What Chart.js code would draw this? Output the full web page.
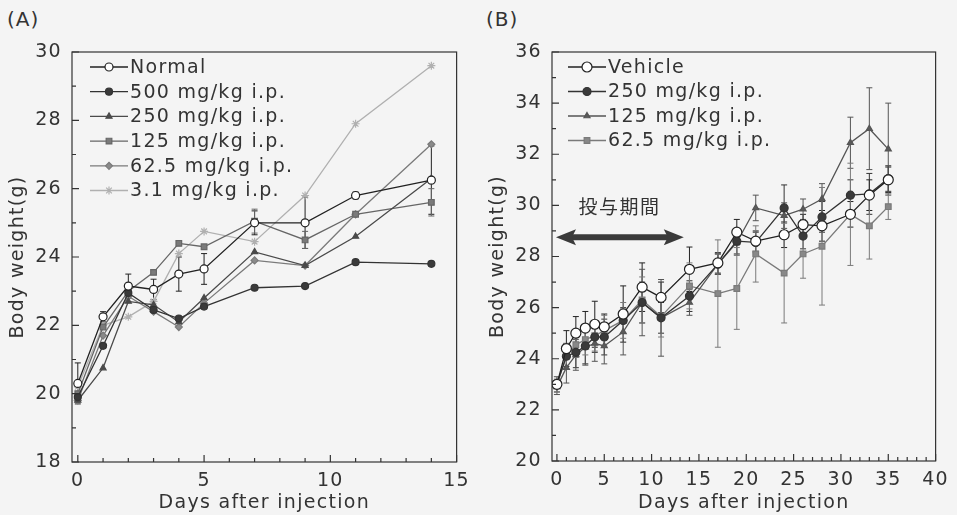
<!DOCTYPE html>
<html>
<head>
<meta charset="utf-8">
<script src="https://cdn.jsdelivr.net/npm/chart.js@4"></script>
<style>
  body { margin: 0; background: #f4f4f4; width: 957px; height: 515px; overflow: hidden; position: relative; font-family: "DejaVu Sans", sans-serif; color: #333; }
  canvas { position: absolute; top: 0; }
  #chartA { left: 0; }
  #chartB { left: 478px; }
  .panel-tag { position: absolute; top: 9px; font-size: 20px; line-height: 1; letter-spacing: 1px; color: #333; }
</style>
</head>
<body>
<div class="panel-tag" style="left:7px">(A)</div>
<div class="panel-tag" style="left:486px">(B)</div>
<canvas id="chartA" width="478" height="515"></canvas>
<canvas id="chartB" width="479" height="515"></canvas>
<script>
// Panel A data
const daysA = [0, 1, 2, 3, 4, 5, 7, 9, 11, 14];
const normalA = [20.3, 22.25, 23.15, 23.05, 23.5, 23.65, 25.0, 25.0, 25.8, 26.25];
const mg500A = [19.9, 21.4, 22.95, 22.45, 22.2, 22.55, 23.1, 23.15, 23.85, 23.8];
const mg250A = [19.8, 20.75, 22.7, 22.6, 22.1, 22.8, 24.15, 23.75, 24.6, 26.3];
const mg125A = [20.0, 21.95, 23.0, 23.55, 24.4, 24.3, 25.05, 24.5, 25.25, 25.6];
const mg62A = [19.8, 21.7, 22.85, 22.4, 21.95, 22.65, 23.9, 23.75, 25.25, 27.3];
const mg3A = [20.2, 22.0, 22.25, 22.7, 24.1, 24.75, 24.45, 25.8, 27.9, 29.6];
const errNormalA = [0.6, 0.15, 0.35, 0.3, 0.5, 0.45, 0.35, 0.75, 0.1, 1.0];
const errMg125A = [0, 0, 0, 0, 0, 0, 0.35, 0.25, 0, 0.4];
const xLabelsA = [0, 5, 10, 15];
const yLabelsA = [18, 20, 22, 24, 26, 28, 30];

// Panel B data
const daysB = [0, 1, 2, 3, 4, 5, 7, 9, 11, 14, 17, 19, 21, 24, 26, 28, 31, 33, 35];
const vehicleB = [23.0, 24.4, 25.0, 25.2, 25.35, 25.25, 25.75, 26.8, 26.4, 27.5, 27.75, 28.95, 28.6, 28.85, 29.25, 29.2, 29.65, 30.4, 31.0];
const mg250B = [23.0, 24.1, 24.25, 24.5, 24.85, 24.85, 25.5, 26.2, 25.6, 26.45, 27.7, 28.6, 28.55, 29.9, 28.8, 29.55, 30.4, 30.45, 31.05];
const mg125B = [22.9, 23.65, 24.15, 24.45, 24.6, 24.5, 25.05, 26.2, 25.6, 26.2, 27.7, 28.55, 29.9, 29.6, 29.85, 30.25, 32.45, 33.0, 32.2];
const mg62B = [23.0, 24.1, 24.55, 24.75, 24.9, 25.1, 25.5, 26.3, 25.65, 26.85, 26.55, 26.75, 28.1, 27.35, 28.1, 28.4, 29.65, 29.2, 29.95];
const errVehicleB = [0, 0.7, 0.65, 0.65, 0.9, 0.5, 1.1, 0.95, 0.6, 0.87, 0.4, 0.5, 0.4, 0.5, 0.4, 0.6, 0.5, 0.6, 0.5];
const errMg250B = [0.3, 0.5, 0.6, 0.7, 0.6, 0.7, 0.5, 0.8, 0.6, 0.6, 0.4, 0.5, 0.4, 0.9, 0.5, 0.6, 0.6, 0.8, 0.5];
const errMg125B = [0.3, 0.6, 0.6, 0.7, 0.7, 0.7, 0.9, 1.3, 1.5, 0.5, 0.4, 0.5, 0.5, 0.5, 0.4, 0.6, 1.0, 1.6, 1.8];
const errMg62B = [0.3, 0.5, 0.5, 0.6, 0.6, 0.6, 0.7, 0.9, 0.8, 0.9, 2.1, 1.6, 1.1, 1.95, 0.95, 2.3, 2.0, 1.3, 0.5];
const xLabelsB = [0, 5, 10, 15, 20, 25, 30, 35, 40];
const yLabelsB = [20, 22, 24, 26, 28, 30, 32, 34, 36];

const FONT = '"DejaVu Sans", sans-serif';
const INK = '#333';
const GAP = '1.3px';

function pts(days, vals) {
    return days.map((d, i) => ({ x: d, y: vals[i] }));
}

function series(label, days, vals, errs, color, fill, style, radius) {
    return {
        label: label,
        data: pts(days, vals),
        errors: errs,
        borderColor: color,
        backgroundColor: fill,
        pointBackgroundColor: fill,
        pointBorderColor: color,
        pointStyle: style,
        pointRadius: radius,
        pointBorderWidth: 1.2,
        borderWidth: 1.3,
        tension: 0
    };
}

// canvas letter spacing (wide scanned lettering)
const spacing = {
    id: 'spacing',
    beforeLayout(chart) { chart.ctx.letterSpacing = GAP; },
    beforeDraw(chart) { chart.ctx.letterSpacing = GAP; }
};

// plot frame + inward ticks
const frame = {
    id: 'frame',
    afterDraw(chart) {
        const { ctx, chartArea: a, scales: { x, y } } = chart;
        ctx.save();
        ctx.strokeStyle = '#333';
        ctx.lineWidth = 1.2;
        ctx.strokeRect(a.left, a.top, a.right - a.left, a.bottom - a.top);
        ctx.beginPath();
        for (let v = Math.ceil(x.min); v <= x.max; v++) {
            const px = x.getPixelForValue(v);
            const len = v % 5 === 0 ? 7 : 4;
            ctx.moveTo(px, a.bottom);
            ctx.lineTo(px, a.bottom - len);
        }
        for (let v = Math.ceil(y.min); v <= y.max; v++) {
            const py = y.getPixelForValue(v);
            const len = v % 2 === 0 ? 7 : 4;
            ctx.moveTo(a.left, py);
            ctx.lineTo(a.left + len, py);
        }
        ctx.stroke();
        ctx.restore();
    }
};

// error bars from each dataset's errors array
const errorBars = {
    id: 'errorBars',
    beforeDatasetsDraw(chart) {
        const { ctx, scales: { x, y } } = chart;
        ctx.save();
        chart.data.datasets.forEach(ds => {
            if (!ds.errors) return;
            ctx.strokeStyle = ds.borderColor;
            ctx.lineWidth = 1;
            ds.data.forEach((p, i) => {
                const e = ds.errors[i];
                if (!e) return;
                const px = x.getPixelForValue(p.x);
                const y1 = y.getPixelForValue(p.y + e);
                const y2 = y.getPixelForValue(p.y - e);
                ctx.beginPath();
                ctx.moveTo(px, y1); ctx.lineTo(px, y2);
                ctx.moveTo(px - 3, y1); ctx.lineTo(px + 3, y1);
                ctx.moveTo(px - 3, y2); ctx.lineTo(px + 3, y2);
                ctx.stroke();
            });
        });
        ctx.restore();
    }
};

// legend drawn inside the plot, top-left
const insideLegend = {
    id: 'insideLegend',
    afterDraw(chart, args, opts) {
        const ctx = chart.ctx;
        ctx.save();
        ctx.letterSpacing = GAP;
        ctx.font = '19px ' + FONT;
        ctx.textBaseline = 'middle';
        ctx.textAlign = 'left';
        chart.data.datasets.forEach((ds, i) => {
            const ly = opts.y + i * opts.step;
            ctx.strokeStyle = ds.borderColor;
            ctx.lineWidth = 1.3;
            ctx.beginPath();
            ctx.moveTo(opts.x, ly);
            ctx.lineTo(opts.x + 38, ly);
            ctx.stroke();
            ctx.fillStyle = ds.pointBackgroundColor;
            ctx.lineWidth = 1.2;
            Chart.helpers.drawPoint(ctx, { pointStyle: ds.pointStyle, radius: ds.pointRadius, rotation: 0, borderWidth: 1.2 }, opts.x + 19, ly);
            ctx.fillStyle = INK;
            ctx.fillText(ds.label, opts.x + 40, ly + 1);
        });
        ctx.restore();
    }
};

// dosing-period arrow for panel B
const dosingArrow = {
    id: 'dosingArrow',
    afterDatasetsDraw(chart, args, opts) {
        if (!opts.show) return;
        const { ctx, scales: { x, y } } = chart;
        const x1 = x.getPixelForValue(opts.from);
        const x2 = x.getPixelForValue(opts.to);
        const py = y.getPixelForValue(opts.level);
        ctx.save();
        ctx.fillStyle = '#3a3a3a';
        ctx.strokeStyle = '#3a3a3a';
        ctx.lineWidth = 6;
        ctx.beginPath();
        ctx.moveTo(x1 + 14, py); ctx.lineTo(x2 - 14, py);
        ctx.stroke();
        ctx.beginPath();
        ctx.moveTo(x1, py); ctx.lineTo(x1 + 20, py - 8); ctx.lineTo(x1 + 16, py); ctx.lineTo(x1 + 20, py + 8); ctx.closePath();
        ctx.moveTo(x2, py); ctx.lineTo(x2 - 20, py - 8); ctx.lineTo(x2 - 16, py); ctx.lineTo(x2 - 20, py + 8); ctx.closePath();
        ctx.fill();
        ctx.letterSpacing = '1.5px';
        ctx.font = '19px "Noto Sans CJK JP", sans-serif';
        ctx.textAlign = 'center';
        ctx.textBaseline = 'middle';
        ctx.fillStyle = INK;
        ctx.fillText(opts.text, x.getPixelForValue(opts.textAt), y.getPixelForValue(opts.textLevel));
        ctx.restore();
    }
};

function makePanel(id, datasets, cfg) {
    return new Chart(document.getElementById(id), {
        type: 'line',
        data: { datasets: datasets },
        plugins: [spacing, errorBars, frame, insideLegend, dosingArrow],
        options: {
            responsive: false,
            animation: false,
            layout: { padding: { top: 52, right: cfg.padRight, bottom: 0, left: 0 } },
            plugins: {
                legend: { display: false },
                tooltip: { enabled: false },
                insideLegend: cfg.legend,
                dosingArrow: cfg.arrow || { show: false }
            },
            scales: {
                x: {
                    type: 'linear',
                    min: cfg.xMin,
                    max: cfg.xMax,
                    afterBuildTicks: axis => { axis.ticks = cfg.xLabels.map(v => ({ value: v })); },
                    afterFit: s => { s.height = cfg.xHeight; },
                    grid: { display: false, drawTicks: false },
                    border: { display: false },
                    ticks: { autoSkip: false, maxRotation: 0, padding: 8, color: INK, font: { family: FONT, size: 19 } },
                    title: { display: true, text: 'Days after injection', color: INK, font: { family: FONT, size: 19 }, padding: { top: 0, bottom: 1 } }
                },
                y: {
                    min: cfg.yMin,
                    max: cfg.yMax,
                    afterBuildTicks: axis => { axis.ticks = cfg.yLabels.map(v => ({ value: v })); },
                    afterFit: s => { s.width = cfg.yWidth; },
                    grid: { display: false, drawTicks: false },
                    border: { display: false },
                    ticks: { padding: 10, color: INK, font: { family: FONT, size: 19 } },
                    title: { display: true, text: 'Body weight(g)', color: INK, font: { family: FONT, size: 19 }, padding: { top: cfg.titleGap, bottom: 0 } }
                }
            }
        }
    });
}

makePanel('chartA', [
    series('Normal', daysA, normalA, errNormalA, '#222', '#ffffff', 'circle', 4),
    series('500 mg/kg i.p.', daysA, mg500A, null, '#333', '#3a3a3a', 'circle', 3.5),
    series('250 mg/kg i.p.', daysA, mg250A, null, '#4a4a4a', '#4a4a4a', 'triangle', 3.5),
    series('125 mg/kg i.p.', daysA, mg125A, errMg125A, '#666', '#7a7a7a', 'rect', 4),
    series('62.5 mg/kg i.p.', daysA, mg62A, null, '#7a7a7a', '#8a8a8a', 'rectRot', 3.5),
    series('3.1 mg/kg i.p.', daysA, mg3A, null, '#b0b0b0', '#b8b8b8', 'star', 4)
], {
    xMin: -0.23, xMax: 15, yMin: 18, yMax: 30,
    xLabels: xLabelsA, yLabels: yLabelsA,
    padRight: 12, xHeight: 53, yWidth: 72, titleGap: 7,
    legend: { x: 90, y: 67, step: 24.7 }
});

makePanel('chartB', [
    series('Vehicle', daysB, vehicleB, errVehicleB, '#222', '#ffffff', 'circle', 5),
    series('250 mg/kg i.p.', daysB, mg250B, errMg250B, '#333', '#3a3a3a', 'circle', 4),
    series('125 mg/kg i.p.', daysB, mg125B, errMg125B, '#555', '#5a5a5a', 'triangle', 3.5),
    series('62.5 mg/kg i.p.', daysB, mg62B, errMg62B, '#7a7a7a', '#888888', 'rect', 4)
], {
    xMin: -0.52, xMax: 40, yMin: 20, yMax: 36,
    xLabels: xLabelsB, yLabels: yLabelsB,
    padRight: 12, xHeight: 54, yWidth: 74, titleGap: 9,
    legend: { x: 90, y: 67, step: 24.5 },
    arrow: { show: true, from: -0.1, to: 13.4, level: 28.75, text: '投与期間', textAt: 6.6, textLevel: 29.95 }
});
</script>
</body>
</html>
